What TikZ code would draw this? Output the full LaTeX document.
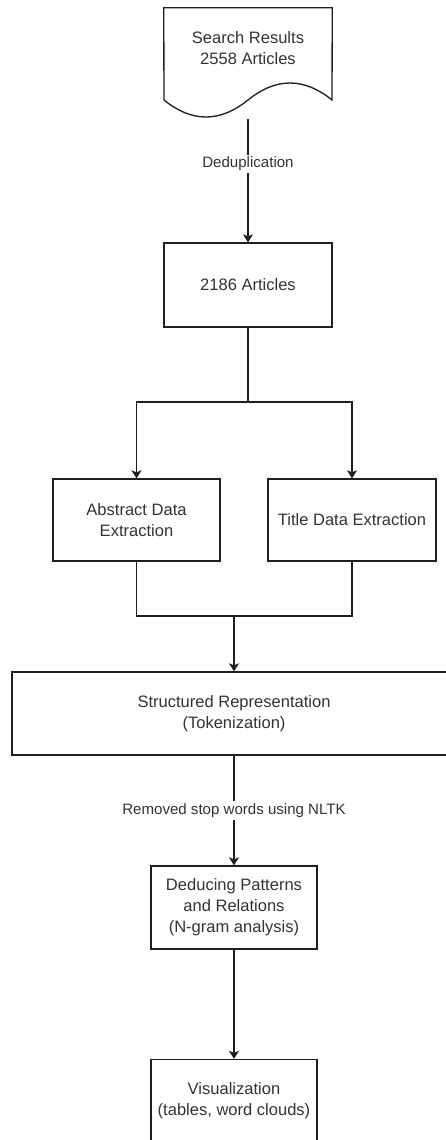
\documentclass[tikz,border=0pt]{standalone}
\usepackage{fontspec}
\setmainfont{Liberation Sans}
\usepackage{tikz}
\usetikzlibrary{arrows.meta}

\definecolor{linegray}{HTML}{1F1F1F}
\definecolor{textgray}{HTML}{333333}
\newcommand{\boxfont}{\fontsize{12.4}{15.75}\selectfont}
\newcommand{\edgefont}{\fontsize{11.3}{13.5}\selectfont}

\begin{document}
\begin{tikzpicture}
			[x=0.75pt, y=-0.75pt,
			procbox/.style={draw=linegray, line width=1pt, fill=white, align=center, text=textgray, font=\boxfont, inner sep=0pt},
			flowarrow/.style={draw=linegray, line width=1pt, -{Stealth[length=6pt, width=7.5pt, inset=1.5pt]}},
			flowline/.style={draw=linegray, line width=1pt},
			edgelabel/.style={fill=white, text=textgray, font=\edgefont, inner sep=1.5pt}]
			\useasboundingbox (0,0) rectangle (446,1140);
			\clip (0,0) rectangle (446,1140);
			\node[minimum width=126pt, minimum height=83.25pt, inner sep=0pt] (doc) at (248,63.5) {};
			\draw[flowline, fill=white] (doc.north west) -- (doc.north east) -- (332,100)
				.. controls (304,77.33) and (276,77.33) .. (248,100)
				.. controls (220,122.67) and (192,122.67) .. (164,100) -- cycle;
			\node[align=center, text=textgray, font=\boxfont] (doctext) at (248,48) {Search Results\\2558 Articles};
			\node[procbox, minimum width=126pt, minimum height=63pt] (arts) at (248,285) {2186 Articles};
			\node[procbox, minimum width=125.25pt, minimum height=61.5pt] (absx) at (136.5,520) {Abstract Data\\Extraction};
			\node[procbox, minimum width=126pt, minimum height=61.5pt] (title) at (352,520) {Title Data Extraction};
			\node[procbox, minimum width=333pt, minimum height=62.25pt] (struct) at (234,713.5) {Structured Representation\\(Tokenization)};
			\node[procbox, minimum width=124.5pt, minimum height=62.25pt] (deduce) at (234,907.5) {Deducing Patterns\\and Relations\\(N-gram analysis)};
			\node[procbox, minimum width=124.5pt, minimum height=62.25pt] (vis) at (234,1101) {Visualization\\(tables, word clouds)};
			\coordinate (split) at (248,402);
			\coordinate (merge) at (234,616);
			\draw[flowarrow] (doc.south) -- (arts.north) node[edgelabel, pos=0.36] (dedup) {Deduplication};
			\draw[flowline] (arts.south) -- (split);
			\draw[flowarrow] (split) -| (absx.north);
			\draw[flowarrow] (split) -| (title.north);
			\draw[flowline] (absx.south) |- (merge);
			\draw[flowline] (title.south) |- (merge);
			\draw[flowarrow] (merge) -- (merge |- struct.north);
			\draw[flowarrow] (struct.south) -- (deduce.north) node[edgelabel, midway] (stopw) {Removed stop words using NLTK};
			\draw[flowarrow] (deduce.south) -- (vis.north);
		\end{tikzpicture}
\end{document}
